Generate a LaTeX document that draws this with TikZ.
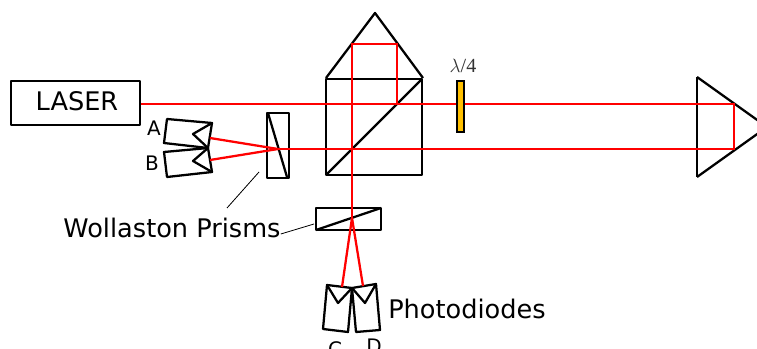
\documentclass[tikz,border=0pt]{standalone}
\usepackage{fontspec}
\setmainfont{DejaVu Sans}
\newfontfamily\seriffont{Liberation Serif}
\definecolor{plateamber}{RGB}{255,192,0}
\tikzstyle{optic}=[draw=black,line width=1.7pt,line join=round]
\tikzstyle{beam}=[draw=red,line width=1.7pt,line join=miter]
\tikzstyle{leader}=[draw=black,line width=0.6pt]
\tikzstyle{biglabel}=[inner sep=0pt,font=\fontsize{19.2}{22}\selectfont]
\tikzstyle{smalllabel}=[inner sep=0pt,font=\fontsize{15}{18}\selectfont]
\newcommand{\drawWP}[3]{
\draw[optic] #1 rectangle #2;
\draw[optic] #3;
}
\newcommand{\drawPD}[5]{
\draw[optic] #1 -- #2 -- #3 -- #4 -- cycle;
\draw[optic] #1 -- #5 -- #2;
}
\begin{document}
\begin{tikzpicture}[x=0.75pt,y=-0.75pt] % all coordinates in pixels of the reference
\useasboundingbox (0,0) rectangle (757,349);
% beams first, optics go on top only for the plate
\draw[optic] (326,79) rectangle (422,175);
\draw[optic] (326,175) -- (422,79);
\draw[optic] (326,78) -- (375,13) -- (423,78);
\draw[optic] (697,77) -- (697,177);
\draw[optic] (697,77) -- (767,127) -- (697,177);
\drawWP{(267,113)}{(289,178)}{(268,113) -- (287,177)}
\drawWP{(316,208)}{(381,230)}{(316,230) -- (381,208)}
\drawPD{(212,123)}{(208,148)}{(164,143)}{(167,119)}{(193,134)} % A
\drawPD{(208,148)}{(212,172)}{(167,177)}{(164,152)}{(193,161)} % B
\drawPD{(327,285)}{(352,288)}{(348,332)}{(323,329)}{(338,303)} % C
\drawPD{(352,288)}{(376,284)}{(380,330)}{(356,332)}{(365,303)} % D
\node[optic,minimum width=129*0.75pt,minimum height=44*0.75pt,inner sep=0pt,anchor=north west,fill=white] (laser) at (10,80) {};
\node[biglabel] (lasertext) at (77,101) {LASER};
\coordinate (split1) at (278,149);
\coordinate (split2) at (352,218);
\draw[beam] (laser.east |- 0,104) -- (734,104) -- (734,149) -- (split1);
\draw[beam] (397,104) -- (397,44) -- (352,44) -- (split2);
\draw[beam] (split1) -- (210,138);
\draw[beam] (split1) -- (210,160);
\draw[beam] (split2) -- (342,287);
\draw[beam] (split2) -- (363,286);
\node[draw=black,line width=0.8pt,fill=plateamber,minimum width=7*0.75pt,minimum height=51*0.75pt,inner sep=0pt] (plate) at (460.5,106.5) {};
\node[inner sep=0pt,text=black!80,font=\fontsize{15}{18}\selectfont\seriffont] (platelabel) at (463,66) {$\lambda$/4};
\node[biglabel] (wollaston) at (172,228) {Wollaston Prisms};
\node[biglabel] (photodiodes) at (467,309) {Photodiodes};
\node[smalllabel] (labelA) at (154,128) {A};
\node[smalllabel] (labelB) at (152,163) {B};
\node[smalllabel] (labelC) at (335,349) {C};
\node[smalllabel] (labelD) at (374,346) {D};
\coordinate (leadone) at (259,172);
\coordinate (leadtwo) at (314,224);
\draw[leader] (227,208) -- (leadone);
\draw[leader] (wollaston.east |- 0,234) -- (leadtwo);
\end{tikzpicture}
\end{document}
